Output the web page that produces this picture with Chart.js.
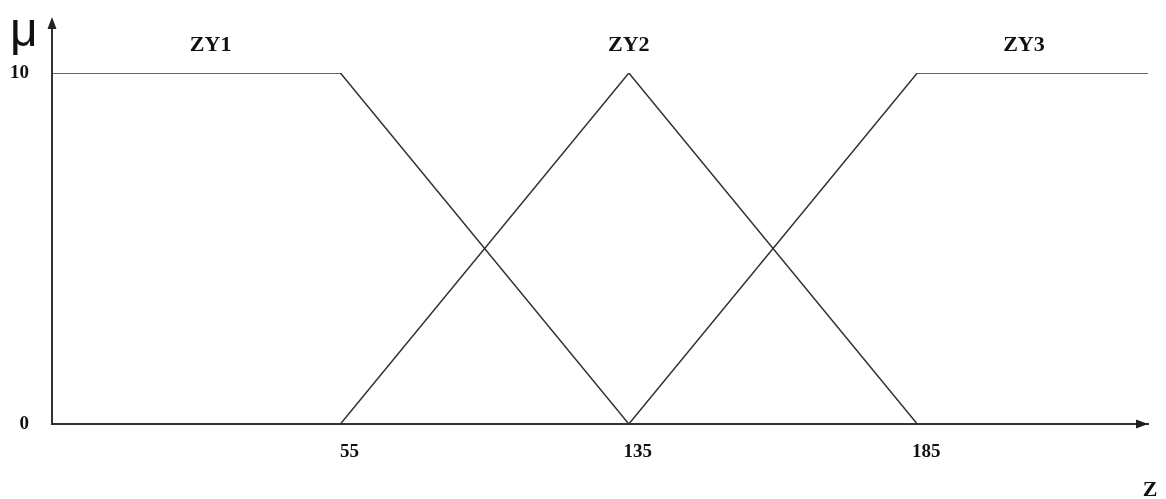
<!DOCTYPE html>
<html>
<head>
<meta charset="utf-8">
<script src="https://cdn.jsdelivr.net/npm/chart.js@4/dist/chart.umd.min.js"></script>
<style>
    html, body { margin: 0; padding: 0; background: #fff; }
    canvas { display: block; }
</style>
</head>
<body>
<canvas id="chart" width="1166" height="499"></canvas>
<script>
// break points along Z, drawn evenly spaced as in the figure
const breakX = [0, 1, 2, 3, 3.8];
const zTickPos = [1, 2, 3];
const zTickLabels = ['55', '135', '185'];
const muTicks = [0, 10];

const setNames = ['ZY1', 'ZY2', 'ZY3'];
const zy1 = [10, 10, 0, null, null];
const zy2 = [null, 0, 10, 0, null];
const zy3 = [null, null, 0, 10, 10];

const lineColor = '#333';
const axisColor = '#333';
const serifBold = 'bold 22px "Liberation Serif", "DejaVu Serif", serif';

const toPoints = (ys) => breakX.map((x, i) => ({ x, y: ys[i] })).filter(p => p.y !== null);

const series = [zy1, zy2, zy3].map((ys, i) => ({
    label: setNames[i],
    data: toPoints(ys),
    borderColor: lineColor,
    borderWidth: 1.5,
    pointRadius: 0,
    tension: 0,
    fill: false
}));

// where the set names sit, in Z units
const nameAt = [0.55, 2, 3.37];

const decorations = {
    id: 'decorations',
    afterDraw(chart) {
        const { ctx, chartArea } = chart;
        const xs = chart.scales.x;
        const left = chartArea.left, bottom = chartArea.bottom;
        ctx.save();
        ctx.strokeStyle = axisColor;
        ctx.fillStyle = '#222';
        ctx.lineWidth = 2;

        // extend the mu axis above the plot and add arrow heads
        ctx.beginPath();
        ctx.moveTo(left, chartArea.top);
        ctx.lineTo(left, 26);
        ctx.stroke();
        ctx.beginPath();
        ctx.moveTo(left, 17);
        ctx.lineTo(left - 4.5, 29);
        ctx.lineTo(left + 4.5, 29);
        ctx.closePath();
        ctx.fill();

        const tip = chartArea.right;
        ctx.beginPath();
        ctx.moveTo(tip, bottom);
        ctx.lineTo(tip - 12, bottom - 4.5);
        ctx.lineTo(tip - 12, bottom + 4.5);
        ctx.closePath();
        ctx.fill();

        // axis titles
        ctx.fillStyle = '#111';
        ctx.font = '48px "Liberation Sans", "DejaVu Sans", sans-serif';
        ctx.textAlign = 'left';
        ctx.textBaseline = 'alphabetic';
        ctx.fillText('\u03bc', 10, 46);

        ctx.font = serifBold;
        ctx.textAlign = 'center';
        ctx.textBaseline = 'middle';
        ctx.fillText('Z', 1150, 490);

        // set names
        setNames.forEach((name, i) => {
            ctx.fillText(name, xs.getPixelForValue(nameAt[i]), 45);
        });
        ctx.restore();
    }
};

new Chart(document.getElementById('chart'), {
    type: 'line',
    data: { datasets: series },
    options: {
        responsive: false,
        devicePixelRatio: 1,
        animation: false,
        layout: { padding: { top: 73, right: 18, left: 0, bottom: 0 } },
        plugins: {
            legend: { display: false },
            tooltip: { enabled: false }
        },
        scales: {
            x: {
                type: 'linear',
                min: 0,
                max: 3.8,
                afterBuildTicks: (scale) => { scale.ticks = zTickPos.map(v => ({ value: v })); },
                afterFit: (scale) => { scale.height = 75; },
                grid: { display: false, drawTicks: false },
                border: { display: true, color: axisColor, width: 2 },
                ticks: {
                    padding: 17,
                    labelOffset: 9,
                    maxRotation: 0,
                    autoSkip: false,
                    color: '#111',
                    font: { family: '"Liberation Serif", "DejaVu Serif", serif', size: 19, weight: 'bold' },
                    callback: (value, index) => zTickLabels[index]
                }
            },
            y: {
                min: 0,
                max: 10,
                afterBuildTicks: (scale) => { scale.ticks = muTicks.map(v => ({ value: v })); },
                afterFit: (scale) => { scale.width = 52; },
                grid: { display: false, drawTicks: false },
                border: { display: true, color: axisColor, width: 2 },
                ticks: {
                    padding: 23,
                    color: '#111',
                    font: { family: '"Liberation Serif", "DejaVu Serif", serif', size: 19, weight: 'bold' }
                }
            }
        }
    },
    plugins: [decorations]
});
</script>
</body>
</html>
